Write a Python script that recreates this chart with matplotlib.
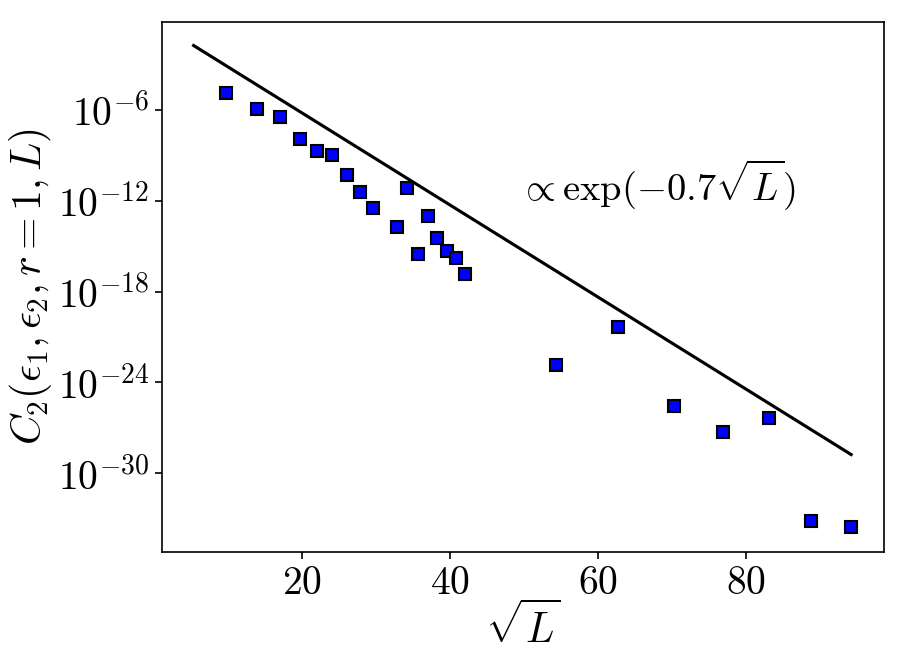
import numpy as np
import matplotlib
matplotlib.use('Agg')
import matplotlib.pyplot as plt
from matplotlib.ticker import NullLocator

plt.rcParams['mathtext.fontset'] = 'cm'
plt.rcParams['font.family'] = 'serif'
plt.rcParams['font.serif'] = ['cmr10', 'DejaVu Serif']
plt.rcParams['axes.formatter.use_mathtext'] = True
plt.rcParams['font.size'] = 20

# sqrt(L) and measured C2 values (log10)
sqrt_L = [9.76, 13.86, 17.0, 19.7, 22.0, 24.1, 26.1, 27.9, 29.6, 32.8, 34.2, 35.65,
          37.0, 38.3, 39.6, 40.8, 42.0, 54.3, 62.7, 70.2, 76.9, 83.05, 88.8, 94.2]
log10_C2 = [-4.90, -5.95, -6.48, -7.89, -8.71, -8.95, -10.27, -11.40, -12.47, -13.71,
            -11.17, -15.51, -13.02, -14.47, -15.33, -15.80, -16.85, -22.84, -20.33,
            -25.53, -27.27, -26.32, -33.12, -33.51]

# fit line  ~ A exp(-0.7 sqrt(L))
fit_A = 0.76
fit_rate = 0.7
fit_range = (5.35, 94.2)

C2 = 10.0 ** np.array(log10_C2)
xf = np.linspace(fit_range[0], fit_range[1], 100)
yf = fit_A * np.exp(-fit_rate * xf)

fig = plt.figure(figsize=(907/150, 665/150), dpi=150)
ax = fig.add_subplot(111)
fig.subplots_adjust(left=0.1786, right=0.9743, top=0.967, bottom=0.170)

ax.plot(xf, yf, 'k-', lw=1.5)
ax.plot(sqrt_L, C2, 's', color='blue', mec='black', ms=6, mew=1.0)
ax.set_yscale('log')
ax.set_xlim(1.08, 98.6)
ax.set_ylim(10**-35.19, 10**-0.19)
ax.set_yticks([1e-6, 1e-12, 1e-18, 1e-24, 1e-30])
ax.yaxis.set_minor_locator(NullLocator())
ax.set_xticks([20, 40, 60, 80])
ax.tick_params(labelsize=19)
ax.tick_params(axis='y', pad=2.5)

ax.text(49.3, 1e-12, r'$\propto \exp(-0.7\sqrt{L})$', fontsize=18.5)
ax.set_xlabel(r'$\sqrt{L}$', labelpad=0)
ax.set_ylabel(r'$C_2(\epsilon_1, \epsilon_2, r=1, L)$', labelpad=2)

fig.savefig('out.png', dpi=150)
